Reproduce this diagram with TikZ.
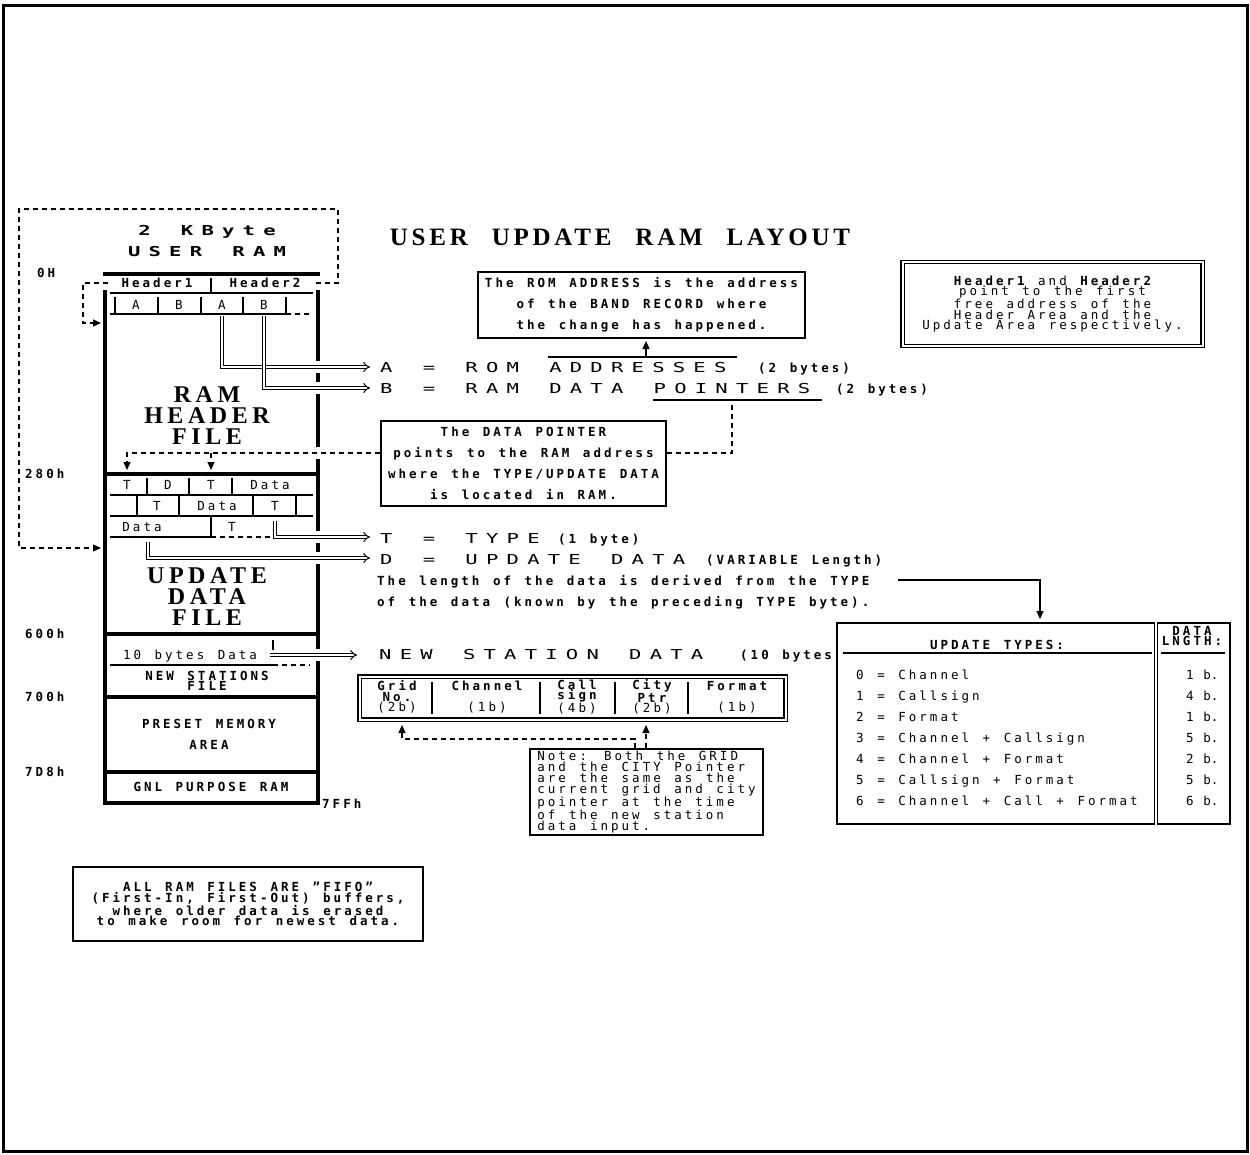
\documentclass[tikz,border=0pt]{standalone}
\usepackage{fontspec}
\newfontfamily\pixfont[LetterSpace=24,WordSpace=1.29]{DejaVu Sans Mono}
\newfontfamily\widefont[LetterSpace=60,WordSpace=1.47,FakeStretch=1.5]{DejaVu Sans Mono}
\newfontfamily\ttlfont[LetterSpace=15,WordSpace=2.4]{Liberation Serif}
\newfontfamily\blkfont[LetterSpace=19]{Liberation Serif}
\usetikzlibrary{arrows.meta,positioning}

\tikzset{
  bt/.style={inner sep=0pt, font=\pixfont\bfseries\fontsize{12.5}{10.5}\selectfont},
  bts/.style={inner sep=0pt, align=center, font=\pixfont\bfseries\fontsize{12.5}{21}\selectfont},
  lt/.style={inner sep=0pt, font=\pixfont\fontsize{12.5}{10.5}\selectfont},
  lnt/.style={inner sep=0pt, font=\pixfont\fontsize{12.5}{10.5}\selectfont\addfontfeature{LetterSpace=0}},
  wd/.style={inner sep=0pt, anchor=base west, font=\widefont\fontsize{13.7}{16}\selectfont},
  wdb/.style={inner sep=0pt, font=\widefont\bfseries\fontsize{13.7}{16}\selectfont},
  ser/.style={inner sep=0pt, align=center, font=\blkfont\bfseries\fontsize{24}{21}\selectfont},
  pbox/.style={draw, line width=1.6pt, inner sep=0pt, align=center},
  dbox/.style={draw, double, double distance=2pt, line width=1.2pt, inner sep=0pt, align=center},
  wall/.style={line width=4.5pt},
  hair/.style={line width=1.2pt},
  dsh/.style={line width=1.2pt, dash pattern=on 5pt off 4pt},
  dbl/.style={double, double distance=2.4pt, line width=1pt, -{Implies[scale=1.4]}},
  arr/.style={-{Triangle[length=8pt,width=7pt]}},
}

\begin{document}
\begin{tikzpicture}[x=1pt,y=-1pt,line join=miter]
\useasboundingbox (0,0) rectangle (1250,1154);
\draw[line width=3pt] (3,5) rectangle (1247,1151);

% heading
\node[inner sep=0pt,anchor=base,font=\ttlfont\bfseries\fontsize{25}{25}\selectfont] (title) at (620,245) {USER UPDATE RAM LAYOUT};
\node[wdb,anchor=base] (kbyte) at (207,235) {2 KByte};
\node[wdb,anchor=base] (uram) at (207,256) {USER RAM};

% addresses
\node[bt,anchor=base west] (a0) at (37,277) {0H};
\node[bt,anchor=base west] (a280) at (25,478) {280h};
\node[bt,anchor=base west] (a600) at (25,638) {600h};
\node[bt,anchor=base west] (a700) at (25,701) {700h};
\node[bt,anchor=base west] (a7d8) at (25,776) {7D8h};
\node[bt,anchor=base west] (a7ff) at (322,808) {7FFh};

% ram block
\draw[wall] (103,274) -- (320,274);
\draw[wall] (105,290) -- (105,803);
\draw[wall] (318,290) -- (318,803);
\draw[wall] (103,803) -- (320,803);
\foreach \y in {474,634,697,772}
\draw[wall] (105,\y) -- (318,\y);
\foreach \y in {367,388,453,537,558,655}
\fill[white] (314,\y-6) rectangle (322,\y+6);

% header file
\node[bt,anchor=base] (hdr1) at (157,287) {Header1};
\node[bt,anchor=base] (hdr2) at (265,287) {Header2};
\draw[hair] (211,278) -- (211,293);
\draw[hair] (110,293) -- (313,293);
\foreach \x in {115,158,201,243,286}
\draw[hair] (\x,297) -- (\x,314);
\draw[hair] (110,314) -- (286,314);
\draw[dsh] (286,314) -- (312,314);
\foreach \x/\t/\n in {136/A/fa1,179/B/fb1,222/A/fa2,264/B/fb2}
\node[lt,anchor=base] (\n) at (\x,309) {\t};
\node[ser] (rhf) at (207,416) {RAM\\HEADER\\FILE};

% update data file
\foreach \x/\t/\n in {127/T/ua,168/D/ub,211/T/uc,270/Data/ud}
\node[lt,anchor=base] (\n) at (\x,489) {\t};
\foreach \x in {147,189,232}
\draw[hair] (\x,478) -- (\x,495);
\draw[hair] (110,495) -- (313,495);
\foreach \x/\t/\n in {157/T/ue,217/Data/uf,275/T/ug}
\node[lt,anchor=base] (\n) at (\x,510) {\t};
\foreach \x in {137,179,253,296}
\draw[hair] (\x,495) -- (\x,516);
\draw[hair] (110,516) -- (313,516);
\node[lt,anchor=base] (uh) at (142,531) {Data};
\node[lt,anchor=base] (ui) at (232,531) {T};
\draw[hair] (211,516) -- (211,537);
\draw[hair] (110,537) -- (211,537);
\draw[dsh] (211,537) -- (270,537);
\node[ser] (udf) at (207,597) {UPDATE\\DATA\\FILE};

% new stations file
\node[lt,anchor=base] (tbd) at (190,659) {10 bytes Data};
\draw[hair] (110,665) -- (273,665);
\draw[dsh] (273,665) -- (310,665);
\draw[hair] (273,640) -- (273,650);
\node[bt,align=center] (nsf) at (207,681) {NEW STATIONS\\FILE};
\node[bts] (pma) at (209,734) {PRESET MEMORY\\AREA};
\node[bt,anchor=base] (gpr) at (211,791) {GNL PURPOSE RAM};

% header pointers
\draw[dsh,arr] (108,283) -| (83,323) -- (101,323);
\draw[dsh,arr] (316,283) -- (338,283) -- (338,209) -- (19,209) -- (19,548) -- (101,548);

% legend
\node[wd] (rowa) at (380,372) {A = ROM ADDRESSES};
\node[bt,anchor=base west] (rowa2) at (758,372) {(2 bytes)};
\node[wd] (rowb) at (380,393) {B = RAM DATA POINTERS};
\node[bt,anchor=base west] (rowb2) at (836,393) {(2 bytes)};
\node[wd] (rowt) at (380,543) {T = TYPE};
\node[bt,anchor=base west] (rowt2) at (558,543) {(1 byte)};
\node[wd] (rowd) at (380,564) {D = UPDATE DATA};
\node[bt,anchor=base west] (rowd2) at (706,564) {(VARIABLE Length)};
\node[bt,anchor=base west] (len1) at (377,585) {The length of the data is derived from the TYPE};
\node[bt,anchor=base west] (len2) at (377,606) {of the data (known by the preceding TYPE byte).};
\node[wd] (rown) at (379,659) {NEW STATION DATA};
\node[bt,anchor=base west] (rown2) at (740,659) {(10 bytes};

\draw[dbl] (222,316) |- (370,367);
\draw[dbl] (264,316) |- (370,388);
\draw[dbl] (275,521) |- (370,537);
\draw[dbl] (148,542) |- (370,558);
\draw[dbl] (270,655) -- (357,655);

% notes
\node[pbox,minimum width=327pt,minimum height=66pt,font=\pixfont\bfseries\fontsize{12.5}{21}\selectfont] (rombox) at (641.5,305) {The ROM ADDRESS is the address\\of the BAND RECORD where\\the change has happened.};
\draw[hair] (548,357) -- (737,357);
\draw[hair,arr] (646,357) -- (646,341);

\node[pbox,minimum width=285pt,minimum height=85pt,font=\pixfont\bfseries\fontsize{12.5}{21}\selectfont] (dpbox) at (523.5,463.5) {The DATA POINTER\\points to the RAM address\\where the TYPE/UPDATE DATA\\is located in RAM.};
\draw[hair] (653,400) -- (822,400);
\draw[dsh] (dpbox.east |- 0,453) -- (732,453) -- (732,400);
\draw[dsh,arr] (dpbox.west |- 0,453) -- (127,453) -- (127,470);
\draw[dsh,arr] (211,453) -- (211,470);

\node[dbox,minimum width=300pt,minimum height=84pt,font=\pixfont\fontsize{12.5}{10.5}\selectfont] (hbox) at (1052.5,304) {{\bfseries Header1} and {\bfseries Header2}\\point to the first\\free address of the\\Header Area and the\\Update Area respectively.};

% update types
\node[draw,line width=1.6pt,minimum width=393pt,minimum height=201pt] (utbox) at (1033.5,723.5) {};
\draw[line width=1pt,double,double distance=1.5pt] (utbox.north -| 1156,0) -- (utbox.south -| 1156,0);
\draw[hair] (843,653) -- (1152,653);
\draw[hair] (1161,653) -- (1225,653);
\node[bt,anchor=base] (utt) at (997,649) {UPDATE TYPES:};
\node[bt,align=center] (dlen) at (1192,636) {DATA\\LNGTH:};
\foreach \t/\l [count=\i from 0] in {Channel/1,Callsign/4,Format/1,Channel + Callsign/5,Channel + Format/2,Callsign + Format/5,Channel + Call + Format/6} {
  \node[lt,anchor=base west] (ut\i) at (856,679+21*\i) {\i\ = \t};
  \node[lnt,anchor=base west] (ul\i) at (1186,679+21*\i) {\l\ b.};
}
\draw[hair,arr] (898,580) -| (1040,619);

% new station record
\node[dbox,minimum width=426pt,minimum height=43pt] (gridbox) at (572.5,698) {};
\foreach \x in {432,540,615,688}
\draw[hair] (\x,682) -- (\x,714);
\node[bt,align=center] (cgrid) at (397,697) {Grid\\No.\\{\mdseries(2b)}};
\node[bt,align=center] (cchan) at (487,697) {Channel\\[10.5pt]{\mdseries(1b)}};
\node[bt,align=center] (ccall) at (577,697) {Call\\sign\\{\mdseries(4b)}};
\node[bt,align=center] (ccity) at (652,697) {City\\Ptr\\{\mdseries(2b)}};
\node[bt,align=center] (cform) at (737,697) {Format\\[10.5pt]{\mdseries(1b)}};

\node[pbox,align=left,minimum width=233pt,minimum height=86pt,font=\pixfont\fontsize{12.5}{11}\selectfont] (note) at (646.5,792) {Note: Both the GRID\\and the CITY Pointer\\are the same as the\\current grid and city\\pointer at the time\\of the new station\\data input.};
\draw[dsh,arr] (note.north -| 635,0) -- (635,739) -- (402,739) -- (402,725);
\draw[dsh,arr] (note.north -| 646,0) -- (646,725);

% fifo
\node[pbox,minimum width=350pt,minimum height=74pt,font=\pixfont\bfseries\fontsize{12.5}{10.5}\selectfont] (fifo) at (248,904) {ALL RAM FILES ARE ”FIFO”\\(First-In, First-Out) buffers,\\where older data is erased\\to make room for newest data.};
\end{tikzpicture}
\end{document}
